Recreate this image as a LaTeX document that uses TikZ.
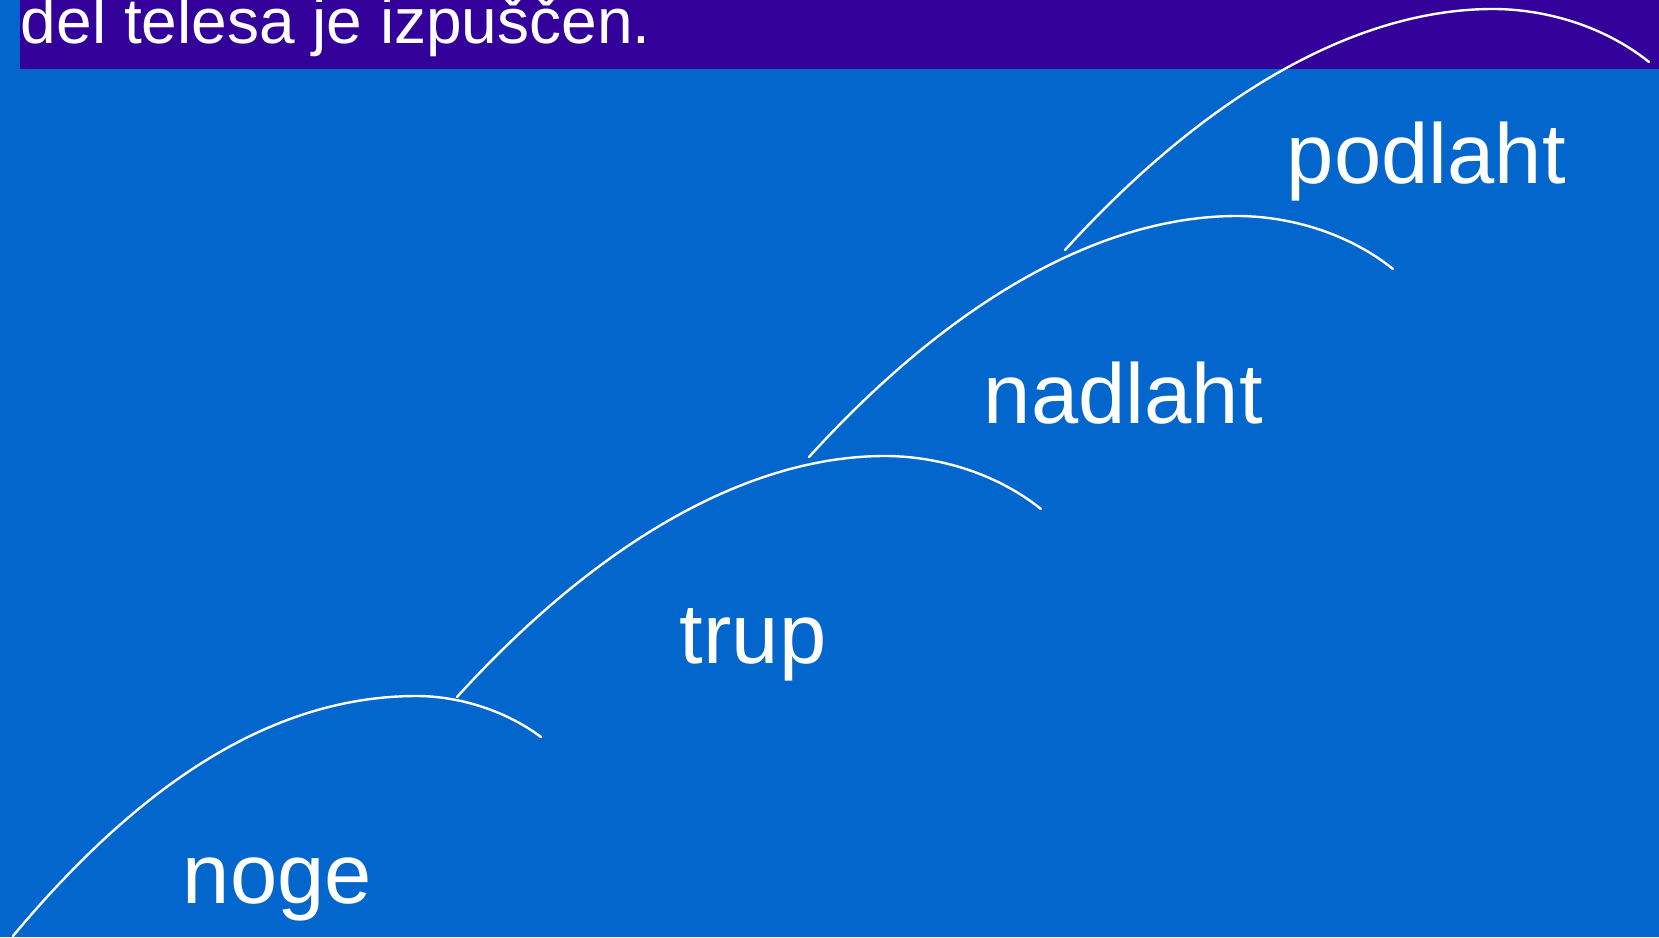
\documentclass[tikz,border=0pt]{standalone}
\usepackage{fontspec}
\setmainfont{Liberation Sans}
\definecolor{bgblue}{RGB}{3,102,204}
\definecolor{bannerpurple}{RGB}{51,0,153}
\tikzset{
  arcline/.style={draw=white, line width=1.2pt, line cap=round},
  labeltext/.style={text=white, anchor=base west, inner sep=0pt, font=\fontsize{42.5}{50}\selectfont},
  titletext/.style={text=white, anchor=base west, inner sep=0pt, font=\fontsize{32}{38}\selectfont}
}
\begin{document}
\begin{tikzpicture}[x=0.5pt, y=-0.5pt]
\useasboundingbox (0,0) rectangle (1659,937);
\clip (0,0) rectangle (1659,937);
\fill[bgblue] (0,0) rectangle (1659,937);
\fill[bannerpurple] (20,0) rectangle (1659,69);
\node[titletext] (title) at (20.5,43.5) {del telesa je izpuščen.};
% arcs
\draw[arcline] (13,936) .. controls (149,773) and (281,696) .. (417,696) .. controls (455,696) and (503,708.5) .. (541,737);
\draw[arcline] (457,697) .. controls (596,544) and (746,456) .. (885,456) .. controls (933,456) and (993,470.6) .. (1041,509);
\draw[arcline] (809,457) .. controls (948,304) and (1098,216) .. (1237,216) .. controls (1285,216) and (1345,230.6) .. (1393,269);
\draw[arcline] (1065,250) .. controls (1204,97) and (1354,9) .. (1493,9) .. controls (1541,9) and (1601,23.6) .. (1649,62);
% labels
\node[labeltext] (podlaht) at (1286.5,183) {podlaht};
\node[labeltext] (nadlaht) at (983.5,423) {nadlaht};
\node[labeltext] (trup) at (679.5,663) {trup};
\node[labeltext] (noge) at (182.5,903) {noge};
\end{tikzpicture}
\end{document}
